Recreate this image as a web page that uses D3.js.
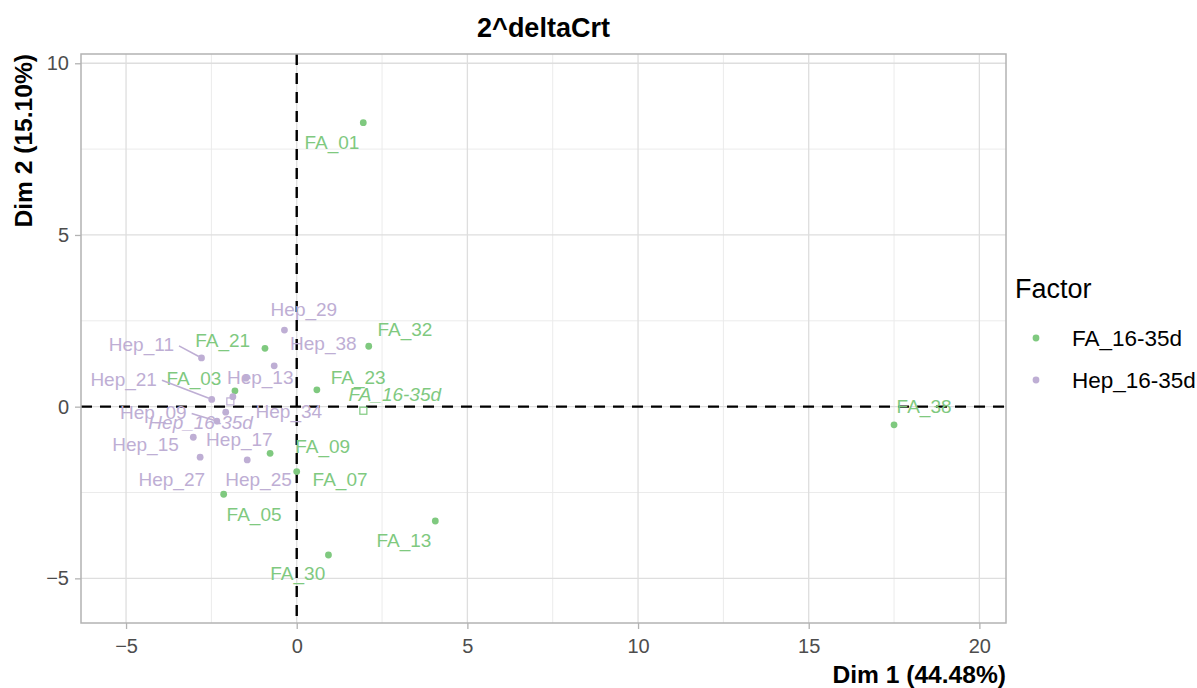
<!DOCTYPE html>
<html>
<head>
<meta charset="utf-8">
<script src="https://cdn.jsdelivr.net/npm/d3@7"></script>
<style>
  body { margin: 0; background: #fff; }
  svg text { font-family: "Liberation Sans", Arial, sans-serif; }
</style>
</head>
<body>
<div class="container"></div>
<script>
var WIDTH = 1197;
var HEIGHT = 688;

// individuals (PCA coordinates)
var faNames = ['FA_01', 'FA_32', 'FA_23', 'FA_09', 'FA_07', 'FA_21', 'FA_03', 'FA_05', 'FA_13', 'FA_30', 'FA_38'];
var faX = [1.95, 2.11, 0.59, -0.78, 0.00, -0.93, -1.81, -2.14, 4.06, 0.93, 17.50];
var faY = [8.27, 1.76, 0.49, -1.36, -1.89, 1.70, 0.46, -2.55, -3.33, -4.32, -0.53];
// where the repelled labels ended up, in data units
var faLabX = [1.03, 3.17, 1.80, 0.76, 1.27, -2.17, -3.01, -1.25, 3.14, 0.03, 18.38];
var faLabY = [7.68, 2.25, 0.86, -1.16, -2.13, 1.92, 0.83, -3.15, -3.90, -4.87, 0.00];

var hepNames = ['Hep_29', 'Hep_38', 'Hep_13', 'Hep_11', 'Hep_21', 'Hep_34', 'Hep_17', 'Hep_09', 'Hep_15', 'Hep_27', 'Hep_25'];
var hepX = [-0.36, -0.66, -1.49, -2.79, -2.49, -1.87, -2.08, -2.34, -3.03, -2.83, -1.45];
var hepY = [2.23, 1.19, 0.83, 1.42, 0.21, 0.29, -0.16, -0.42, -0.89, -1.47, -1.55];
var hepLabX = [0.21, 0.78, -1.07, -4.55, -5.07, -0.23, -1.68, -4.20, -4.43, -3.66, -1.12];
var hepLabY = [2.82, 1.85, 0.86, 1.80, 0.80, -0.15, -0.97, -0.17, -1.09, -2.11, -2.13];

var segLabels = ['Hep_11', 'Hep_21', 'Hep_09'];

var groups = ['FA_16-35d', 'Hep_16-35d'];
var groupColors = ['#7FC97F', '#BEAED4'];
// group mean label offsets (data units, relative to the centroid)
var centroidLabDX = [0.92, -0.87];
var centroidLabDY = [0.46, -0.61];

var xTicks = [-5, 0, 5, 10, 15, 20];
var yTicks = [-5, 0, 5, 10];
var xMinor = [-2.5, 2.5, 7.5, 12.5, 17.5];
var yMinor = [-2.5, 2.5, 7.5];

var translate = function (x, y) {
  return 'translate(' + x + ',' + y + ')';
};

var loadChart = function () {
  var left = 81, right = 1006, top = 54, bottom = 623;

  var xScale = d3.scaleLinear().domain([-6.32, 20.78]).range([left, right]);
  var yScale = d3.scaleLinear().domain([-6.3, 10.27]).range([bottom, top]);

  var svg = d3.select('.container').append('svg')
    .attr('width', WIDTH)
    .attr('height', HEIGHT);

  svg.append('rect').attr('width', WIDTH).attr('height', HEIGHT).attr('fill', '#fff');

  // grid
  var grid = svg.append('g');
  grid.selectAll('.vminor').data(xMinor).enter().append('line')
    .attr('x1', function (d) { return xScale(d); }).attr('x2', function (d) { return xScale(d); })
    .attr('y1', top).attr('y2', bottom)
    .attr('stroke', '#EBEBEB').attr('stroke-width', 1);
  grid.selectAll('.hminor').data(yMinor).enter().append('line')
    .attr('y1', function (d) { return yScale(d); }).attr('y2', function (d) { return yScale(d); })
    .attr('x1', left).attr('x2', right)
    .attr('stroke', '#EBEBEB').attr('stroke-width', 1);
  grid.selectAll('.vmajor').data(xTicks).enter().append('line')
    .attr('x1', function (d) { return xScale(d); }).attr('x2', function (d) { return xScale(d); })
    .attr('y1', top).attr('y2', bottom)
    .attr('stroke', '#DEDEDE').attr('stroke-width', 1.3);
  grid.selectAll('.hmajor').data(yTicks).enter().append('line')
    .attr('y1', function (d) { return yScale(d); }).attr('y2', function (d) { return yScale(d); })
    .attr('x1', left).attr('x2', right)
    .attr('stroke', '#DEDEDE').attr('stroke-width', 1.3);

  // dashed zero lines
  svg.append('line')
    .attr('x1', left).attr('x2', right)
    .attr('y1', yScale(0)).attr('y2', yScale(0))
    .attr('stroke', '#000').attr('stroke-width', 2.4).attr('stroke-dasharray', '11,8');
  svg.append('line')
    .attr('x1', xScale(0)).attr('x2', xScale(0))
    .attr('y1', top).attr('y2', bottom)
    .attr('stroke', '#000').attr('stroke-width', 2.4).attr('stroke-dasharray', '11,8');

  // axes
  var xAxis = d3.axisBottom(xScale).tickValues(xTicks).tickSize(6).tickPadding(10);
  var yAxis = d3.axisLeft(yScale).tickValues(yTicks).tickSize(6).tickPadding(6);

  var gx = svg.append('g').attr('transform', translate(0, bottom)).call(xAxis);
  var gy = svg.append('g').attr('transform', translate(left, 0)).call(yAxis);
  [gx, gy].forEach(function (g) {
    g.select('.domain').remove();
    g.selectAll('line').attr('stroke', '#B3B3B3').attr('stroke-width', 1.3);
    g.selectAll('text').attr('fill', '#4D4D4D').style('font-size', '20px');
  });

  // panel border
  svg.append('rect')
    .attr('x', left).attr('y', top)
    .attr('width', right - left).attr('height', bottom - top)
    .attr('fill', 'none').attr('stroke', '#B3B3B3').attr('stroke-width', 1.5);

  var sets = [
    { names: faNames, xs: faX, ys: faY, lx: faLabX, ly: faLabY },
    { names: hepNames, xs: hepX, ys: hepY, lx: hepLabX, ly: hepLabY }
  ];

  var chartGroup = svg.append('g');

  sets.forEach(function (s, gi) {
    var color = groupColors[gi];
    var pts = s.names.map(function (n, i) {
      return { name: n, x: s.xs[i], y: s.ys[i], lx: s.lx[i], ly: s.ly[i] };
    });

    // labels first, so segments can use their boxes
    var labels = chartGroup.selectAll('.lab' + gi).data(pts).enter().append('text')
      .attr('class', 'lab' + gi)
      .attr('x', function (d) { return xScale(d.lx); })
      .attr('y', function (d) { return yScale(d.ly); })
      .attr('text-anchor', 'middle')
      .attr('dominant-baseline', 'central')
      .attr('fill', color)
      .style('font-size', '19px')
      .text(function (d) { return d.name; });

    labels.each(function (d) {
      if (segLabels.indexOf(d.name) < 0) return;
      var bb = this.getBBox();
      var px = xScale(d.x), py = yScale(d.y);
      var sx = bb.x + bb.width + 5, sy = yScale(d.ly) + 1;
      var len = Math.hypot(px - sx, py - sy);
      chartGroup.append('line')
        .attr('x1', sx).attr('y1', sy)
        .attr('x2', px - (px - sx) / len * 3).attr('y2', py - (py - sy) / len * 3)
        .attr('stroke', color).attr('stroke-width', 1.6);
    });

    chartGroup.selectAll('.pt' + gi).data(pts).enter().append('circle')
      .attr('class', 'pt' + gi)
      .attr('cx', function (d) { return xScale(d.x); })
      .attr('cy', function (d) { return yScale(d.y); })
      .attr('r', 3.4)
      .attr('fill', color);

    // group centroid (hollow square) and its italic label
    var cx = d3.mean(s.xs), cy = d3.mean(s.ys);
    chartGroup.append('rect')
      .attr('x', xScale(cx) - 3.5).attr('y', yScale(cy) - 3.5)
      .attr('width', 7).attr('height', 7)
      .attr('fill', 'none').attr('stroke', color).attr('stroke-width', 1.2);
    chartGroup.append('text')
      .attr('x', xScale(cx + centroidLabDX[gi]))
      .attr('y', yScale(cy + centroidLabDY[gi]))
      .attr('text-anchor', 'middle')
      .attr('dominant-baseline', 'central')
      .attr('fill', color)
      .style('font-size', '19px')
      .style('font-style', 'italic')
      .text(groups[gi]);
  });

  // titles
  svg.append('text')
    .attr('x', (left + right) / 2).attr('y', 37)
    .attr('text-anchor', 'middle')
    .style('font-size', '27px').style('font-weight', 'bold')
    .text('2^deltaCrt');

  svg.append('text')
    .attr('x', right).attr('y', 683)
    .attr('text-anchor', 'end')
    .style('font-size', '24.6px').style('font-weight', 'bold')
    .text('Dim 1 (44.48%)');

  svg.append('text')
    .attr('transform', translate(32, top) + ' rotate(-90)')
    .attr('text-anchor', 'end')
    .style('font-size', '24.6px').style('font-weight', 'bold')
    .text('Dim 2 (15.10%)');

  // legend
  var legend = svg.append('g');
  legend.append('text')
    .attr('x', 1015).attr('y', 298)
    .style('font-size', '27px')
    .text('Factor');
  var items = legend.selectAll('.item').data(groups).enter().append('g')
    .attr('transform', function (d, i) { return translate(0, 338 + i * 42); });
  items.append('circle')
    .attr('cx', 1036).attr('cy', 0).attr('r', 3.4)
    .attr('fill', function (d, i) { return groupColors[i]; });
  items.append('text')
    .attr('x', 1072).attr('y', 0)
    .attr('dominant-baseline', 'central')
    .style('font-size', '22.5px')
    .text(function (d) { return d; });
};

window.onload = loadChart;
</script>
</body>
</html>
